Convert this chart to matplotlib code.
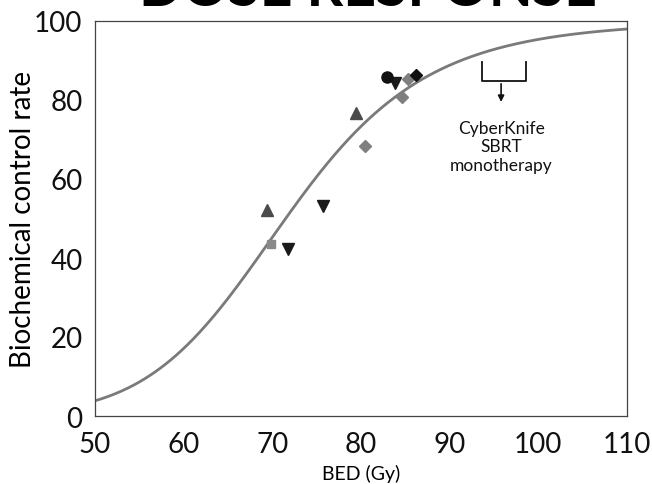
import numpy as np
import matplotlib
matplotlib.use("Agg")
import matplotlib.pyplot as plt

plt.rcParams['font.family'] = ['Lato', 'DejaVu Sans']

# Study points: BED (Gy) and biochemical control rate (%)
tri_up_bed = [69.4, 79.4]
tri_up_rate = [52.2, 76.7]
tri_down_bed = [71.8, 75.7, 83.8]
tri_down_rate = [42.3, 53.2, 84.3]
grey_diamond_bed = [80.4, 84.6, 85.3]
grey_diamond_rate = [68.4, 80.8, 85.3]
square_bed = [69.8]
square_rate = [43.5]
circle_bed = [82.9]
circle_rate = [85.8]
black_diamond_bed = [86.2]
black_diamond_rate = [86.3]

# Log-logistic dose-response fit
bed50 = 71.5
slope = 9.0

x_ticks = [50, 60, 70, 80, 90, 100, 110]
y_ticks = [0, 20, 40, 60, 80, 100]

fig = plt.figure(figsize=(6.52, 4.85), dpi=100)
ax = fig.add_axes([95 / 652, 1 - 417 / 485, (627 - 95) / 652, (417 - 22) / 485])

bed = np.linspace(50, 110, 400)
rate = 100.0 / (1.0 + (bed50 / bed) ** slope)
ax.plot(bed, rate, color='#7a7a7a', lw=2.0, zorder=2)

ax.plot(tri_up_bed, tri_up_rate, '^', color='#4a4a4a', ms=8, zorder=3)
ax.plot(tri_down_bed, tri_down_rate, 'v', color='#1a1a1a', ms=8, zorder=3)
ax.plot(grey_diamond_bed, grey_diamond_rate, 'D', color='#7f7f7f', ms=6, zorder=3)
ax.plot(square_bed, square_rate, 's', color='#8a8a8a', ms=6, zorder=3)
ax.plot(circle_bed, circle_rate, 'o', color='#111111', ms=8, zorder=3)
ax.plot(black_diamond_bed, black_diamond_rate, 'D', color='#111111', ms=6, zorder=3)

ax.set_xlim(50, 110)
ax.set_ylim(0, 100)
ax.set_xticks(x_ticks)
ax.set_yticks(y_ticks)
ax.tick_params(length=0, labelsize=20, colors='#111111')
ax.tick_params(axis='x', pad=11)
ax.tick_params(axis='y', pad=9)
for s in ax.spines.values():
    s.set_color('#444444')
    s.set_linewidth(0.9)

ax.set_xlabel('BED (Gy)', fontsize=14, va='center')
ax.set_ylabel('Biochemical control rate', fontsize=20, va='center')
ax.xaxis.set_label_coords(0.5, -(474 - 417) / 395)
ax.yaxis.set_label_coords(-(95 - 23) / 532, 0.5)

# CyberKnife bracket with arrow
ax.plot([93.6, 93.6, 98.6, 98.6], [89.6, 84.8, 84.8, 89.6], color='#111111', lw=1.3)
ax.annotate('', xy=(95.8, 78.8), xytext=(95.8, 84.8),
            arrowprops=dict(arrowstyle='-|>', color='#111111', lw=1.2, mutation_scale=9))
ax.text(95.8, 75.0, 'CyberKnife\nSBRT\nmonotherapy', ha='center', va='top',
        fontsize=12.5, linespacing=1.2, color='#111111')

fig.text(368 / 652, 1 - 6 / 485, 'DOSE RESPONSE', ha='center', va='baseline',
         fontsize=41, fontweight='bold', color='#000000')

fig.savefig('out.png', dpi=100, facecolor='white')
